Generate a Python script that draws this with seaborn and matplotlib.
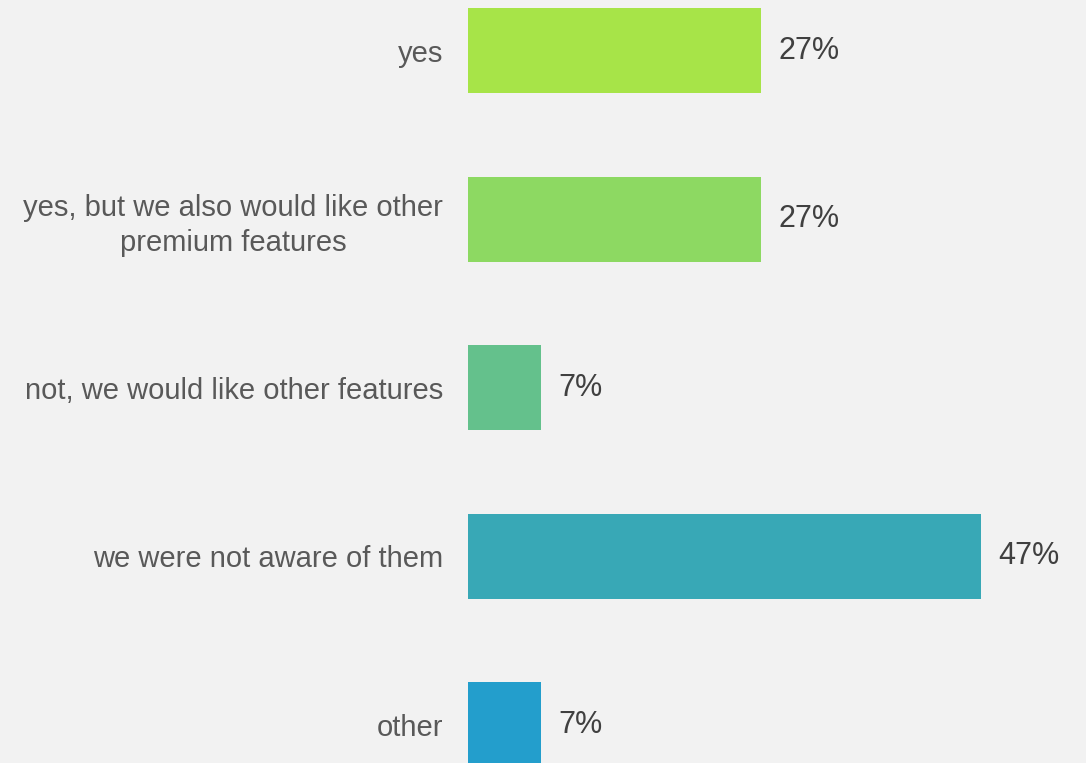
import matplotlib.pyplot as plt
import seaborn as sns
import pandas as pd

answers = ['yes', 'yes, but we also would like other\npremium features',
           'not, we would like other features', 'we were not aware of them', 'other']
shares = [26.67, 26.67, 6.67, 46.67, 6.67]
bar_colors = ['#a7e448', '#8dd962', '#64c18c', '#38a8b6', '#239ecc']

df = pd.DataFrame({'answer': answers, 'share': shares})

sns.set_theme(style='white')
plt.rcParams['font.family'] = ['Liberation Sans', 'DejaVu Sans']

fig = plt.figure(figsize=(10.86, 7.63), dpi=100, facecolor='#f2f2f2')
ax = fig.add_axes([468 / 1086, 0, 618 / 1086, 1])
ax.set_facecolor('#f2f2f2')

sns.barplot(data=df, y='answer', x='share', hue='answer', palette=bar_colors,
            orient='h', width=0.505, saturation=1, linewidth=0,
            legend=False, ax=ax)

for cont in ax.containers:
    ax.bar_label(cont, labels=[f'{v:.0f}%' for v in cont.datavalues],
                 padding=12, fontsize=22, color='#404040')

ax.set_xlim(0, 618 / 11)
ax.set_ylim(4.228, -0.30)
ax.set_xlabel('')
ax.set_ylabel('')
ax.set_xticks([])
ax.tick_params(axis='y', length=0, pad=18)
for lbl in ax.get_yticklabels():
    lbl.set_fontsize(21)
    lbl.set_color('#595959')
    lbl.set_multialignment('center')
    lbl.set_linespacing(1.3)
sns.despine(ax=ax, left=True, bottom=True)

fig.savefig('out.png', dpi=100, facecolor='#f2f2f2')
